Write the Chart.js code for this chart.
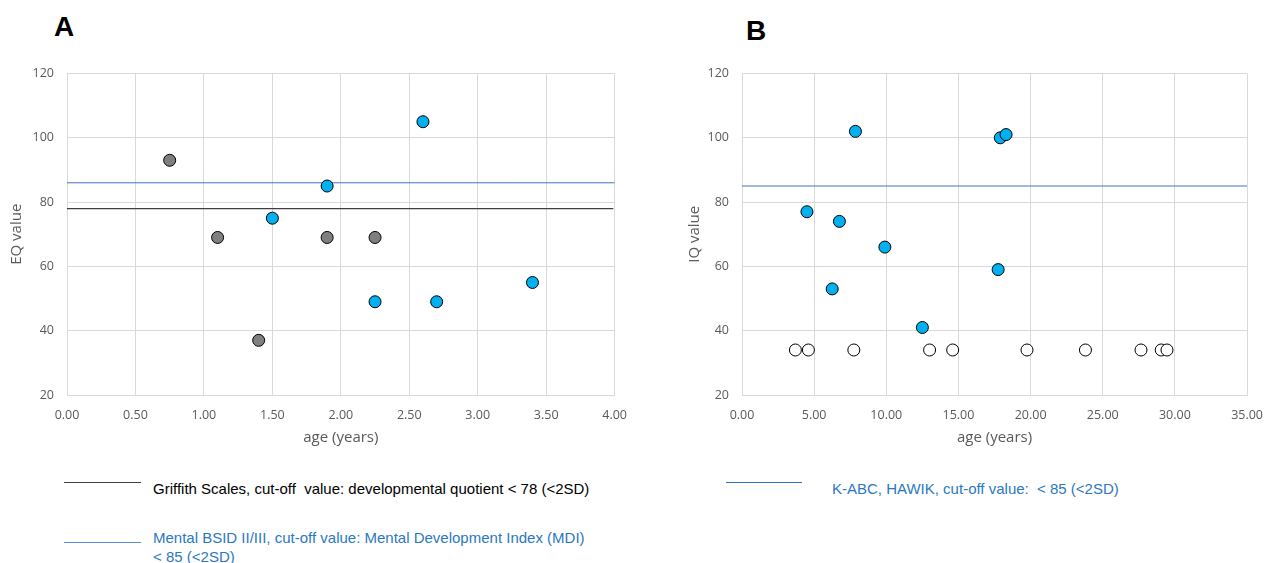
<!DOCTYPE html>
<html>
<head>
<meta charset="utf-8">
<script src="https://cdn.jsdelivr.net/npm/chart.js@4/dist/chart.umd.min.js"></script>
<style>
  body { margin: 0; background: #fff; width: 1265px; height: 563px; position: relative; overflow: hidden; }
  .panel { position: absolute; font-family: "Liberation Sans", Arial, sans-serif; font-weight: bold; font-size: 28px; color: #000; }
  canvas { position: absolute; }
  .leg { position: absolute; font-family: "Liberation Sans", Arial, sans-serif; font-size: 15px; line-height: 19px; }
  .leg-line { position: absolute; height: 0; }
</style>
</head>
<body>
<div class="panel" style="left:54px; top:11px;">A</div>
<div class="panel" style="left:746px; top:15px;">B</div>

<canvas id="chartA" width="640" height="407" style="left:0; top:53px;"></canvas>
<canvas id="chartB" width="596" height="407" style="left:680px; top:53px;"></canvas>

<div class="leg-line" style="left:64px; top:482px; width:77px; border-top:1px solid #404040;"></div>
<div class="leg" style="left:153px; top:479px; color:#000;">Griffith Scales, cut-off&nbsp; value: developmental quotient &lt; 78 (&lt;2SD)</div>
<div class="leg-line" style="left:64px; top:542px; width:77px; border-top:1px solid #5b8bd6;"></div>
<div class="leg" style="left:153px; top:528px; color:#2b78c2;">Mental BSID II/III, cut-off value: Mental Development Index (MDI)<br>&lt; 85 (&lt;2SD)</div>

<div class="leg-line" style="left:726px; top:482px; width:76px; border-top:1px solid #2f6fc4;"></div>
<div class="leg" style="left:832px; top:479px; color:#2b78c2;">K-ABC, HAWIK, cut-off value:&nbsp; &lt; 85 (&lt;2SD)</div>

<script>
// panel A: age (years) vs EQ
var griffithAge = [0.75, 1.10, 1.40, 1.90, 2.25]
var griffithEQ = [93, 69, 37, 69, 69]
var bsidAge = [1.50, 1.90, 2.60, 2.25, 2.70, 3.40]
var bsidEQ = [75, 85, 105, 49, 49, 55]
var griffithCutoff = 78
var bsidCutoff = 86
var xTicksA = [0, 0.5, 1, 1.5, 2, 2.5, 3, 3.5, 4]

// panel B: age (years) vs IQ
var iqAge = [7.86, 17.9, 18.3, 4.5, 6.75, 9.9, 6.25, 17.75, 12.5]
var iqValue = [102, 100, 101, 77, 74, 66, 53, 59, 41]
var untestAge = [3.7, 4.6, 7.75, 13.0, 14.6, 19.75, 23.8, 27.65, 29.05, 29.45]
var untestValue = [34, 34, 34, 34, 34, 34, 34, 34, 34, 34]
var kabcCutoff = 85
var xTicksB = [0, 5, 10, 15, 20, 25, 30, 35]

var yTicks = [20, 40, 60, 80, 100, 120]

function pts(xs, ys) {
    return xs.map(function (x, i) { return { x: x, y: ys[i] } })
}

function hline(y, x0, x1) {
    return [{ x: x0, y: y }, { x: x1, y: y }]
}

var tickFont = { family: '"Open Sans", sans-serif', size: 12.5 }
var titleFont = { family: '"Open Sans", sans-serif', size: 15 }
var gridColor = '#d9d9d9'
var textColor = '#595959'

function makeOptions(xTicks, yTitle, yWidth, yTitlePad) {
    return {
        responsive: false,
        animation: false,
        layout: { padding: { top: 6, right: 24, left: 0, bottom: 0 } },
        plugins: { legend: { display: false }, tooltip: { enabled: false } },
        scales: {
            x: {
                type: 'linear',
                min: xTicks[0],
                max: xTicks[xTicks.length - 1],
                afterBuildTicks: function (s) { s.ticks = xTicks.map(function (v) { return { value: v } }) },
                afterFit: function (s) { s.height = 65 },
                grid: { color: gridColor, drawTicks: false },
                border: { color: gridColor },
                ticks: { padding: 13, color: textColor, font: tickFont, maxRotation: 0,
                    callback: function (v) { return v.toFixed(2) } },
                title: { display: true, text: 'age (years)', color: textColor, font: titleFont, padding: 13 }
            },
            y: {
                min: 20,
                max: 120,
                afterBuildTicks: function (s) { s.ticks = yTicks.map(function (v) { return { value: v } }) },
                afterFit: function (s) { s.width = yWidth },
                grid: { color: gridColor, drawTicks: false },
                border: { color: gridColor },
                ticks: { padding: 13, color: textColor, font: tickFont },
                title: { display: true, text: yTitle, color: textColor, font: titleFont, padding: yTitlePad }
            }
        }
    }
}

var dotStyle = { pointRadius: 6, pointBorderWidth: 1, pointBorderColor: '#000', showLine: false, order: 1 }

new Chart(document.getElementById('chartA'), {
    type: 'scatter',
    data: {
        datasets: [
            Object.assign({ data: pts(griffithAge, griffithEQ), pointBackgroundColor: '#7f7f7f' }, dotStyle),
            Object.assign({ data: pts(bsidAge, bsidEQ), pointBackgroundColor: '#00b0f0' }, dotStyle),
            { data: hline(griffithCutoff, 0, 3.99), showLine: true, pointRadius: 0, borderColor: '#404040', borderWidth: 1.2, order: 2 },
            { data: hline(bsidCutoff, 0, 4), showLine: true, pointRadius: 0, borderColor: '#4472c4', borderWidth: 1, order: 2 }
        ]
    },
    options: makeOptions(xTicksA, 'EQ value', 67, 8)
})

new Chart(document.getElementById('chartB'), {
    type: 'scatter',
    data: {
        datasets: [
            Object.assign({ data: pts(iqAge, iqValue), pointBackgroundColor: '#00b0f0' }, dotStyle),
            Object.assign({ data: pts(untestAge, untestValue), pointBackgroundColor: '#fff' }, dotStyle),
            { data: hline(kabcCutoff, 0, 35), showLine: true, pointRadius: 0, borderColor: '#4472c4', borderWidth: 1, order: 2 }
        ]
    },
    options: makeOptions(xTicksB, 'IQ value', 62, 6)
})
</script>
</body>
</html>
